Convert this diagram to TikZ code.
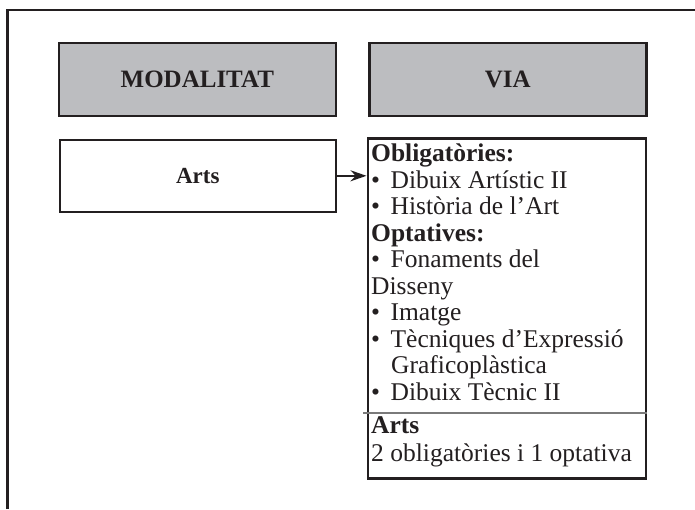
\documentclass[tikz,border=0pt]{standalone}
\usepackage{fontspec}
\setmainfont{Liberation Serif}
\usetikzlibrary{arrows.meta}
\definecolor{ink}{HTML}{231F20}
\definecolor{headgray}{HTML}{BCBDC0}
\definecolor{rulegray}{HTML}{7A7A7A}
\newcommand\mybul{•\hspace{10.5pt}}
\tikzset{
  boxshape/.style={draw=ink, line width=2.6pt, rectangle, inner sep=0pt, anchor=north west},
  headbox/.style={boxshape, fill=headgray, minimum width=277pt, minimum height=73pt,
    font=\fontsize{25}{30}\selectfont\bfseries, text=ink},
  modbox/.style={boxshape, fill=white, minimum width=276pt, minimum height=72pt,
    font=\fontsize{23}{28}\selectfont\bfseries, text=ink},
  listline/.style={anchor=base west, inner sep=0pt, text=ink, font=\fontsize{25.5}{26.5}\selectfont},
  listhead/.style={listline, font=\fontsize{25.5}{26.5}\selectfont\bfseries},
  connector/.style={draw=ink, line width=2pt, -{Stealth[length=16pt,width=11pt]}},
  frameline/.style={draw=ink, line width=2.8pt},
  divider/.style={draw=rulegray, line width=1.5pt}
}
\begin{document}
\begin{tikzpicture}[x=1pt,y=-1pt]
\useasboundingbox (0,0) rectangle (695,509);
% outer frame (only top and left edges visible)
\draw[frameline] (7.5,509) -- (7.5,10) -- (695,10);
% header boxes
\node[headbox] (modalitat) at (57.5,41.5) {MODALITAT};
\node[headbox] (via) at (368,41.5) {VIA};
% modality box
\node[modbox] (arts) at (58.5,138.5) {Arts};
% via content box
\node[boxshape, fill=white, minimum width=278pt, minimum height=340pt] (list) at (366.5,137) {};
% lines of text
\node[listhead] (l1) at (371,161.5) {Obligatòries:};
\node[listline] (l2) at (371,188) {\mybul Dibuix Artístic II};
\node[listline] (l3) at (371,214.6) {\mybul Història de l’Art};
\node[listhead] (l4) at (371,241.2) {Optatives:};
\node[listline] (l5) at (371,267.7) {\mybul Fonaments del};
\node[listline] (l6) at (371,294.2) {Disseny};
\node[listline] (l7) at (371,320.8) {\mybul Imatge};
\node[listline] (l8) at (371,347.4) {\mybul Tècniques d’Expressió};
\node[listline] (l9) at (391,373.9) {Graficoplàstica};
\node[listline] (l10) at (371,400.5) {\mybul Dibuix Tècnic II};
\node[listhead] (l11) at (371,433.5) {Arts};
\node[listline] (l12) at (371,461) {2 obligatòries i 1 optativa};
% divider
\coordinate (divL) at (363,413);
\draw[divider] (divL) -- (list.east |- divL);
% connector
\draw[connector] (arts.east) -- (list.west |- arts.east);
\end{tikzpicture}
\end{document}
